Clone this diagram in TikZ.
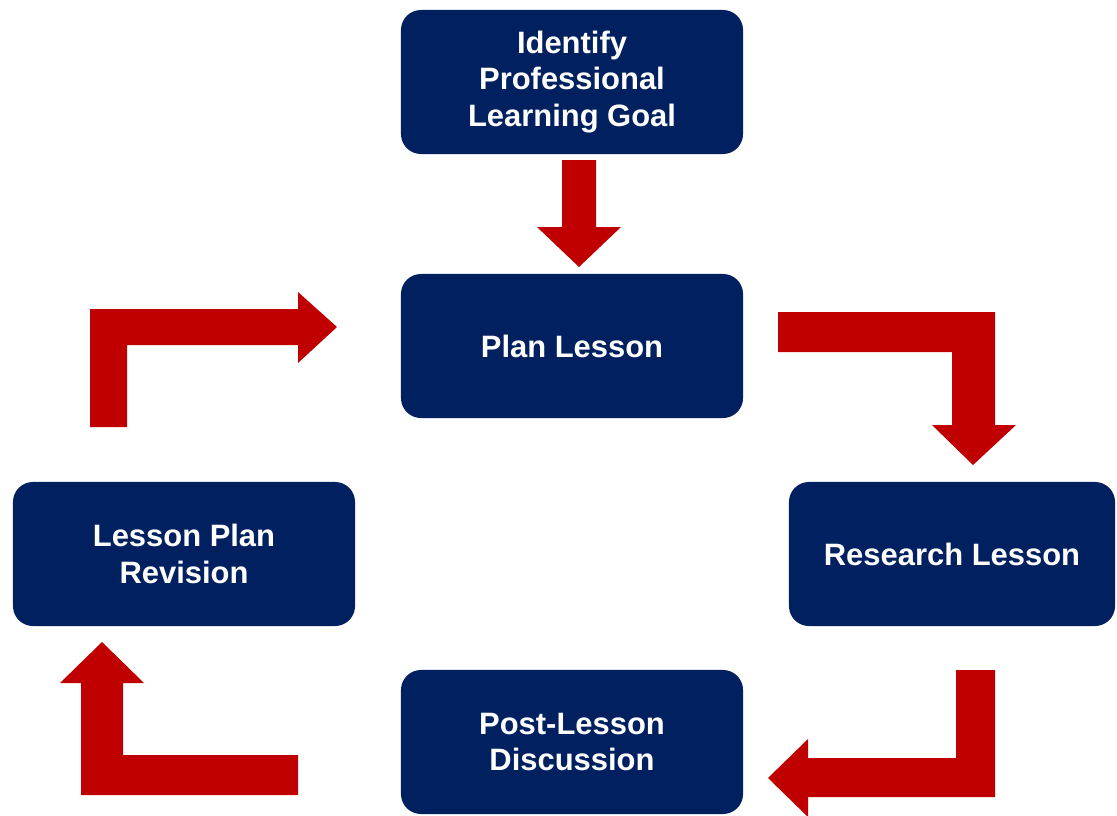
\documentclass[tikz,border=0pt]{standalone}
\usepackage{fontspec}
\setmainfont{Liberation Sans}
\definecolor{boxblue}{HTML}{002060}
\definecolor{arrowred}{HTML}{C00000}
\tikzset{
  stage/.style={fill=boxblue, rounded corners=0.5cm, text=white, align=center,
    minimum width=8.55cm, minimum height=3.6cm, inner sep=0pt,
    font=\fontsize{22}{26}\selectfont\bfseries},
  blockarrow/.style={fill=arrowred}
}
\begin{document}
\begin{tikzpicture}[x=0.025cm,y=-0.025cm]
        \useasboundingbox (0,0) rectangle (1117,815);
        \node[stage] (goal) at (572,82) {Identify\\Professional\\Learning Goal};
        \node[stage] (plan) at (572,346) {Plan Lesson};
        \node[stage, minimum width=8.15cm] (research) at (952,554) {Research Lesson};
        \node[stage] (revision) at (184,554) {Lesson Plan\\Revision};
        \node[stage] (discussion) at (572,742) {Post-Lesson\\Discussion};
        % goal -> plan
        \fill[blockarrow] (562,160) -- (596,160) -- (596,227) -- (621,227) -- (579,267)
            -- (537,227) -- (562,227) -- cycle;
        % plan -> research
        \fill[blockarrow] (778,312) -- (995,312) -- (995,425) -- (1016,425) -- (973,465)
            -- (932,425) -- (952,425) -- (952,352) -- (778,352) -- cycle;
        % research -> discussion
        \fill[blockarrow] (956,670) -- (995,670) -- (995,797) -- (808,797) -- (808,817)
            -- (768,778) -- (808,739) -- (808,758) -- (956,758) -- cycle;
        % discussion -> revision
        \fill[blockarrow] (298,795) -- (81,795) -- (81,683) -- (60,683) -- (102,642)
            -- (144,683) -- (123,683) -- (123,755) -- (298,755) -- cycle;
        % revision -> plan
        \fill[blockarrow] (90,427) -- (90,309) -- (298,309) -- (298,292) -- (337,327)
            -- (298,363) -- (298,345) -- (127,345) -- (127,427) -- cycle;
    \end{tikzpicture}
\end{document}
